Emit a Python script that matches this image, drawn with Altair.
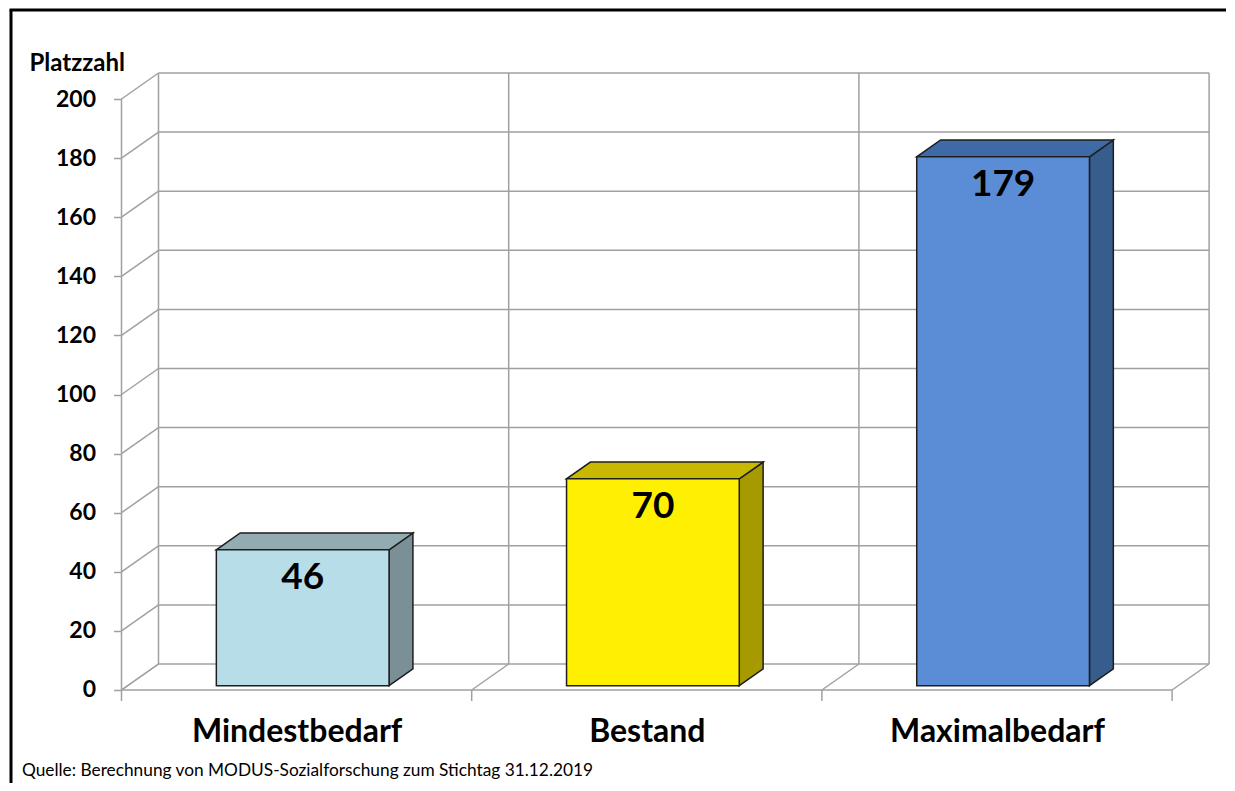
import altair as alt
import pandas as pd

# ---------------- data ----------------
categories = ["Mindestbedarf", "Bestand", "Maximalbedarf"]
values = [46, 70, 179]
y_ticks = [0, 20, 40, 60, 80, 100, 120, 140, 160, 180, 200]
y_title = "Platzzahl"
source_note = "Quelle: Berechnung von MODUS-Sozialforschung zum Stichtag 31.12.2019"

front_colors = ["#B7DEE8", "#FFEF00", "#5B8DD6"]
top_colors = ["#92ACB2", "#C8B900", "#3E6BA6"]
side_colors = ["#7A9096", "#A69A00", "#375D8C"]

# ---------------- geometry / style ----------------
FONT = "Lato"
PX_PER_UNIT = 2.955          # pixels per data unit (y)
CAT_PX = 350.2               # pixels per category (x)
DEPTH_X_PX = 37              # oblique depth of the floor/walls
DEPTH_Y_PX = 26
DXu = DEPTH_X_PX / CAT_PX
DYu = DEPTH_Y_PX / PX_PER_UNIT
F0, F1 = 0.165, 0.81         # bar depth range (fraction of full depth)
HW = 0.2466                  # bar half width (category units)
n = len(categories)
y_max = max(y_ticks)

W = n * CAT_PX + DEPTH_X_PX
H = (y_max + DYu) * PX_PER_UNIT
X_DOM = [0, n + DXu]
Y_DOM = [0, y_max + DYu]
xs = alt.Scale(domain=X_DOM, nice=False, zero=False)
ys = alt.Scale(domain=Y_DOM, nice=False, zero=False)

GRID = "#A0A0A0"

# ---------------- derived tables ----------------
segs = []
for v in y_ticks:
    segs.append((DXu, v + DYu, n + DXu, v + DYu))      # back wall horizontals
    segs.append((0, v, DXu, v + DYu))                   # left wall diagonals
for i in range(n + 1):
    segs.append((i + DXu, DYu, i + DXu, y_max + DYu))   # back wall verticals
    segs.append((i, 0, i + DXu, DYu))                   # floor diagonals
    segs.append((i, 0, i, -11 / PX_PER_UNIT))           # x ticks
segs.append((0, 0, n, 0))                               # front floor edge
segs.append((0, 0, 0, y_max))                           # front y axis line
grid_df = pd.DataFrame(segs, columns=["x", "y", "x2", "y2"])

front_rows, face_rows = [], []
bdx = (F1 - F0) * DXu
bdy = (F1 - F0) * DYu
for i, (c, v) in enumerate(zip(categories, values)):
    y0 = F0 * DYu
    xl = i + 0.5 - HW + F0 * DXu
    xr = i + 0.5 + HW + F0 * DXu
    yt = y0 + v
    front_rows.append(dict(cat=c, value=v, x=xl, x2=xr, xc=(xl + xr) / 2,
                           y=y0, y2=yt, fill=front_colors[i]))
    k = c + "_side"
    face_rows += [
        dict(key=k, fill=side_colors[i], x=xr, y=y0, y2=yt),
        dict(key=k, fill=side_colors[i], x=xr + bdx, y=y0 + bdy, y2=yt + bdy),
    ]
    k = c + "_top"
    face_rows += [
        dict(key=k, fill=top_colors[i], x=xl, y=yt, y2=yt),
        dict(key=k, fill=top_colors[i], x=xl + bdx, y=yt, y2=yt + bdy),
        dict(key=k, fill=top_colors[i], x=xr, y=yt, y2=yt + bdy),
        dict(key=k, fill=top_colors[i], x=xr + bdx, y=yt + bdy, y2=yt + bdy),
    ]
front_df = pd.DataFrame(front_rows)
face_df = pd.DataFrame(face_rows)

label_expr = "[" + ",".join("'" + c + "'" for c in categories) + "][floor(datum.value)]"

x_axis = alt.Axis(
    values=[i + 0.5 for i in range(n)], labelExpr=label_expr,
    domain=False, ticks=False, tickSize=0, grid=False,
    labelFont=FONT, labelFontSize=32, labelFontWeight="bold",
    labelColor="black", labelPadding=42, labelBaseline="middle",
    labelOverlap=False, labelFlush=False, labelLimit=500, title=None)
y_axis = alt.Axis(
    values=y_ticks, domain=False, grid=False, tickSize=8,
    tickColor=GRID, tickWidth=1.5, labelFont=FONT, labelFontSize=23,
    labelFontWeight="bold", labelColor="black", labelPadding=18,
    title=y_title, titleAngle=0, titleAlign="left",
    titleBaseline="alphabetic", titleX=-92.5, titleY=-3,
    titleFont=FONT, titleFontSize=24, titleFontWeight="bold",
    titleColor="black")

# ---------------- layers ----------------
grid = alt.Chart(grid_df).mark_rule(color=GRID, strokeWidth=1.5).encode(
    x=alt.X("x:Q", scale=xs, axis=x_axis),
    x2="x2:Q",
    y=alt.Y("y:Q", scale=ys, axis=y_axis),
    y2="y2:Q",
)

faces = alt.Chart(face_df).mark_area(stroke="#1E1E1E", strokeWidth=1.5,
                                     strokeJoin="miter").encode(
    x=alt.X("x:Q", scale=xs, axis=x_axis),
    y=alt.Y("y:Q", scale=ys, axis=y_axis, stack=None),
    y2="y2:Q",
    color=alt.Color("fill:N", scale=None),
    detail="key:N",
)

fronts = alt.Chart(front_df).mark_rect(stroke="#1E1E1E", strokeWidth=1.5).encode(
    x=alt.X("x:Q", scale=xs, axis=x_axis),
    x2="x2:Q",
    y=alt.Y("y:Q", scale=ys, axis=y_axis),
    y2="y2:Q",
    color=alt.Color("fill:N", scale=None),
)

value_labels = alt.Chart(front_df).mark_text(
    dy=28, baseline="middle", align="center", font=FONT, fontSize=37,
    fontWeight="bold", color="black").encode(
    x=alt.X("xc:Q", scale=xs, axis=x_axis),
    y=alt.Y("y2:Q", scale=ys, axis=y_axis),
    text="value:Q",
)

one = pd.DataFrame({"t": [source_note]})
footer = alt.Chart(one).mark_text(
    align="left", baseline="middle", font=FONT, fontSize=17.3,
    color="black").encode(
    x=alt.value(-99.5), y=alt.value(698), text="t:N")

border_left = alt.Chart(one).mark_rule(color="black", strokeWidth=3).encode(
    x=alt.value(-110.5), y=alt.value(-63), y2=alt.value(900))
border_top = alt.Chart(one).mark_rule(color="black", strokeWidth=3).encode(
    x=alt.value(-112), x2=alt.value(1300), y=alt.value(-63))

chart = alt.layer(grid, faces, fronts, value_labels, footer,
                  border_left, border_top).properties(
    width=W, height=H,
    autosize=alt.AutoSizeParams(type="none"),
    padding={"left": 113.5, "top": 65, "right": 17, "bottom": 93},
    background="white",
).configure_view(strokeWidth=0)

chart.save("out.html", embed_options={"renderer": "svg", "actions": False})
